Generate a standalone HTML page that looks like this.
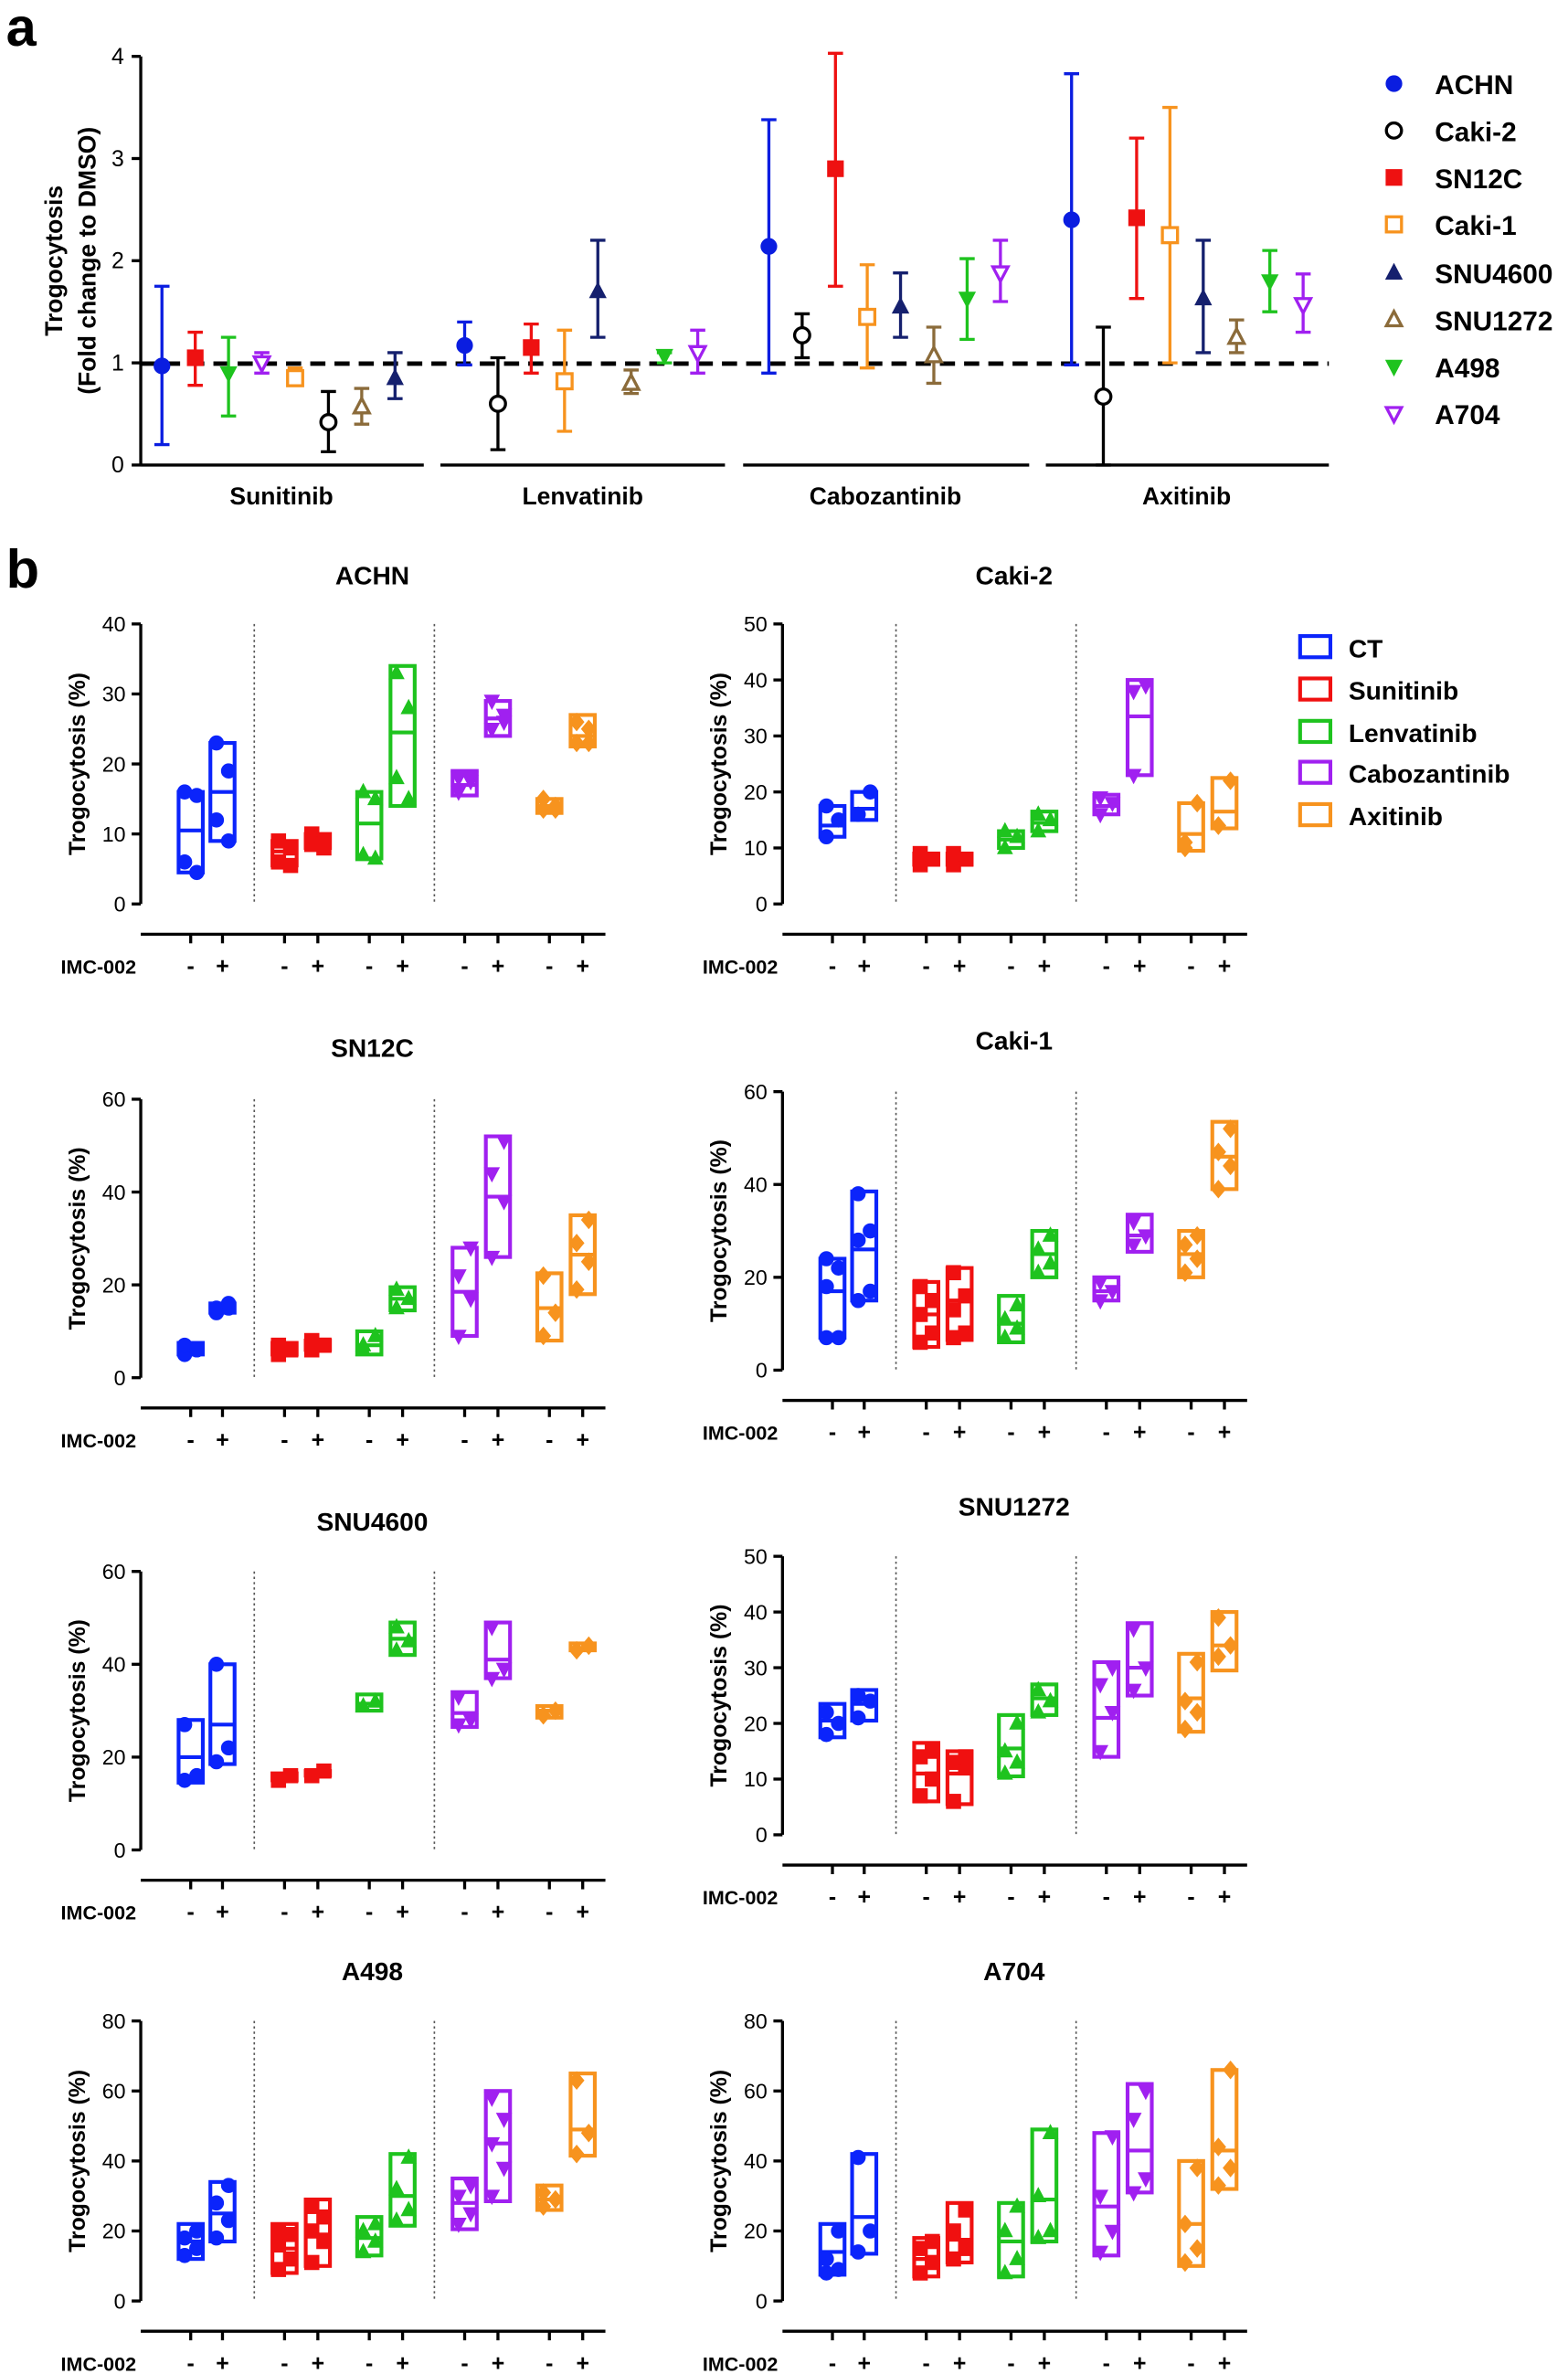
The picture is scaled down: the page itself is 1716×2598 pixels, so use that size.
<!DOCTYPE html>
<html><head><meta charset="utf-8"><style>
html,body{margin:0;padding:0;background:#fff}
svg{display:block;font-family:"Liberation Sans",Arial,sans-serif}
</style></head><body>
<svg id="s" xmlns="http://www.w3.org/2000/svg" width="1716" height="2598" viewBox="0 0 1036 1568">
<rect width="1036" height="1568" fill="#fff"/>
<text x="4" y="30" font-size="36" font-weight="bold">a</text>
<text x="4" y="388" font-size="36" font-weight="bold">b</text>
<text transform="translate(41,172) rotate(-90)" text-anchor="middle" font-size="16" font-weight="bold">Trogocytosis</text>
<text transform="translate(63,172) rotate(-90)" text-anchor="middle" font-size="16" font-weight="bold">(Fold change to DMSO)</text>
<text x="186" y="333" text-anchor="middle" font-size="16" font-weight="bold">Sunitinib</text>
<text x="385" y="333" text-anchor="middle" font-size="16" font-weight="bold">Lenvatinib</text>
<text x="585" y="333" text-anchor="middle" font-size="16" font-weight="bold">Cabozantinib</text>
<text x="784" y="333" text-anchor="middle" font-size="16" font-weight="bold">Axitinib</text>
<g font-size="18" font-weight="bold">
<text x="948" y="62">ACHN</text><text x="948" y="93">Caki-2</text><text x="948" y="124">SN12C</text><text x="948" y="155">Caki-1</text>
<text x="948" y="187">SNU4600</text><text x="948" y="218">SNU1272</text><text x="948" y="249">A498</text><text x="948" y="280">A704</text>
</g>
<g font-size="17" font-weight="bold">
<text x="891" y="434">CT</text><text x="891" y="462">Sunitinib</text><text x="891" y="490">Lenvatinib</text><text x="891" y="517">Cabozantinib</text><text x="891" y="545">Axitinib</text>
</g>
<g font-size="17" font-weight="bold" text-anchor="middle">
<text x="246" y="386">ACHN</text><text x="670" y="386">Caki-2</text>
<text x="246" y="698">SN12C</text><text x="670" y="693">Caki-1</text>
<text x="246" y="1011">SNU4600</text><text x="670" y="1001">SNU1272</text>
<text x="246" y="1308">A498</text><text x="670" y="1308">A704</text>
</g>
<g id="g"></g>
</svg>
<script>
const NS="http://www.w3.org/2000/svg",G=document.getElementById('g');
function el(t,a,txt){const e=document.createElementNS(NS,t);for(const k in a)e.setAttribute(k,a[k]);if(txt!==undefined)e.textContent=txt;G.appendChild(e);return e;}
function line(x1,y1,x2,y2,c,w,extra){return el('line',Object.assign({x1,y1,x2,y2,stroke:c||'#000','stroke-width':w||2},extra||{}));}
function marker(type,x,y,c,s,open){
 const f=open?'#fff':c, sw=open?2:1;
 if(type=='circle')el('circle',{cx:x,cy:y,r:s,fill:f,stroke:c,'stroke-width':sw});
 else if(type=='square')el('rect',{x:x-s,y:y-s,width:2*s,height:2*s,fill:f,stroke:c,'stroke-width':sw});
 else if(type=='up')el('polygon',{points:`${x},${y-s*1.1} ${x-s},${y+s*0.8} ${x+s},${y+s*0.8}`,fill:f,stroke:c,'stroke-width':sw});
 else if(type=='down')el('polygon',{points:`${x},${y+s*1.1} ${x-s},${y-s*0.8} ${x+s},${y-s*0.8}`,fill:f,stroke:c,'stroke-width':sw});
 else if(type=='diamond')el('polygon',{points:`${x},${y-s*1.2} ${x+s},${y} ${x},${y+s*1.2} ${x-s},${y}`,fill:f,stroke:c,'stroke-width':sw});
}
// Panel a
const ay=v=>307-v*67.5;
line(93,37,93,307);
['0','1','2','3','4'].forEach((t,i)=>{line(87,ay(i),93,ay(i));el('text',{x:82,y:ay(i)+5,'text-anchor':'end','font-size':15},t);});
[[93,280],[291,479],[491,680],[691,878]].forEach(s=>line(s[0],307,s[1],307));
line(93,240,878,240,'#000',3,{'stroke-dasharray':'10,6'});
const S={ACHN:['circle','#0a1de0',0],C2:['circle','#000',1],SN:['square','#ee1111',0],C1:['square','#f7931e',1],S46:['up','#15206e',0],S12:['up','#8b6b3a',1],A498:['down','#1ec31e',0],A704:['down','#a020f0',1]};
const A=[
['ACHN',107,0.97,0.2,1.75],['SN',129,1.05,0.78,1.3],['A498',151,0.9,0.48,1.25],['A704',173,1.0,0.9,1.1],['C1',195,0.85,0.78,0.95],['C2',217,0.42,0.13,0.72],['S12',239,0.57,0.4,0.75],['S46',261,0.85,0.65,1.1],
['ACHN',307,1.17,0.98,1.4],['C2',329,0.6,0.15,1.05],['SN',351,1.15,0.9,1.38],['C1',373,0.82,0.33,1.32],['S46',395,1.7,1.25,2.2],['S12',417,0.8,0.7,0.93],['A498',439,1.07,1.0,1.1],['A704',461,1.1,0.9,1.32],
['ACHN',508,2.14,0.9,3.38],['C2',530,1.27,1.05,1.48],['SN',552,2.9,1.75,4.03],['C1',573,1.45,0.95,1.96],['S46',595,1.55,1.25,1.88],['S12',617,1.07,0.8,1.35],['A498',639,1.63,1.23,2.02],['A704',661,1.88,1.6,2.2],
['ACHN',708,2.4,0.98,3.83],['C2',729,0.67,0,1.35],['SN',751,2.42,1.63,3.2],['C1',773,2.25,1.0,3.5],['S46',795,1.63,1.1,2.2],['S12',817,1.25,1.1,1.42],['A498',839,1.8,1.5,2.1],['A704',861,1.57,1.3,1.87]];
A.forEach(d=>{const s=S[d[0]],x=d[1];line(x,ay(d[3]),x,ay(d[4]),s[1],2);line(x-5,ay(d[3]),x+5,ay(d[3]),s[1],2);line(x-5,ay(d[4]),x+5,ay(d[4]),s[1],2);marker(s[0],x,ay(d[2]),s[1],5,s[2]);});
['ACHN','C2','SN','C1','S46','S12','A498','A704'].forEach((k,i)=>{const s=S[k];marker(s[0],921,[55,86,117,148,180,211,242,273][i],s[1],5,s[2]);});
// legend b
const C=['#0b24fb','#f01010','#1ec31e','#a020f0','#f7931e'],M=['circle','square','up','down','diamond'];
[427,455,483,510,538].forEach((y,i)=>el('rect',{x:859,y:y-7,width:20,height:14,fill:'none',stroke:C[i],'stroke-width':2.5}));
// Panel b
const off=[126,147,188,210,244,266,307,329,363,385].map(v=>v-93);
function panel(ax,top,bot,max,step,data){
 const sc=v=>bot-(v/max)*(bot-top);
 line(ax,top,ax,bot);
 for(let v=0;v<=max;v+=step){line(ax-6,sc(v),ax,sc(v));el('text',{x:ax-10,y:sc(v)+5,'text-anchor':'end','font-size':14},String(v));}
 el('text',{transform:`translate(${ax-37},${(top+bot)/2}) rotate(-90)`,'text-anchor':'middle','font-size':15,'font-weight':'bold'},'Trogocytosis (%)');
 const xb=bot+20;line(ax,xb,ax+307,xb);
 [75,194].forEach(o=>line(ax+o,top,ax+o,bot,'#555',1,{'stroke-dasharray':'1.5,2'}));
 el('text',{x:ax-3,y:xb+26,'text-anchor':'end','font-size':13,'font-weight':'bold'},'IMC-002');
 off.forEach((o,i)=>{const x=ax+o;line(x,xb,x,xb+6);el('text',{x:x,y:xb+26,'text-anchor':'middle','font-size':15,'font-weight':'bold'},i%2?'+':'-');
  const d=data[i],c=C[i>>1],pts=d[3];
  el('rect',{x:x-8,y:sc(d[1]),width:16,height:Math.max(sc(d[0])-sc(d[1]),1),fill:'none',stroke:c,'stroke-width':2.5});
  line(x-8,sc(d[2]),x+8,sc(d[2]),c,2.5);
  pts.forEach((p,j)=>marker(M[i>>1],x+(j%2?4:-4),sc(p),c,4.5,0));
 });
}
panel(93,412,597,40,10,[[4.5,16,10.5,[16,15.5,6,4.5]],[9,23,16,[23,19,12,9]],[5.5,9,7.5,[9,8,6,5.5]],[8,10,9,[10,9,8.5,8]],[6.5,16,11.5,[16,15,7,6.5]],[14,34,24.5,[33,28,18,15]],[15.5,19,17,[18,17.5,16,18]],[24,29,26.5,[29,27,25,26]],[13,15,14,[15,14,13.5,13.5]],[22.5,27,24,[26,25,23,23]]]);
panel(517,412,597,50,10,[[12,17.5,14,[12,15,17.5]],[15,20,17,[16,20,16]],[7,9,8,[7,8,9]],[7,9,8,[7,8,9]],[10,13,11.5,[10,12,13]],[13,16.5,14.5,[13,15,16]],[16,19.5,17.5,[16,18,19]],[23,40,33.5,[23,39,38]],[9.5,18,12.5,[10,18,11]],[13.5,22.5,16.5,[14,22,14]]]);
panel(93,726,910,60,20,[[5,7.5,6,[5,6,7,6]],[14,16,15,[14,16,15,15]],[5,7.5,6,[5,6,7,6]],[6,8,7,[6,7,8,7]],[5,10,7,[6,9,7]],[14.5,19.5,17,[15,17,19]],[9,28,18.5,[9,17,22,28]],[26,52,39,[26,38,44,51]],[8,22.5,15,[9,14,22]],[18,35,26.5,[19,25,29,34]]]);
panel(517,721,905,60,20,[[7,24,17,[7,7,18,22,24]],[15,38.5,26,[15,17,28,30,38]],[5,19,12,[6,8,12,15,18]],[6.5,22,15,[7,8,13,16,21]],[6,16,10,[7,9,11,14]],[20,30,25,[21,23,26,29]],[15,20,17,[15,17,19]],[25.5,33.5,29,[27,29,32]],[20,30,25,[21,24,27,29]],[39,53.5,46,[39,44,47,52]]]);
panel(93,1038,1222,60,20,[[14.5,28,20,[15,16,27]],[18.5,40,27,[19,22,40]],[15,16.5,15.5,[15,16]],[16,17,16.5,[16,17]],[30,33.5,31.5,[31,32]],[42,49,45.5,[43,45,48]],[26.5,34,29.5,[27,28,33]],[37,49,41,[37,39,48]],[28.5,31,30,[29,30]],[43,44.5,43.5,[43,44]]]);
panel(517,1028,1212,50,10,[[17.5,23.5,20.5,[18,20,22]],[20.5,26,23.5,[21,24,25]],[6,16.5,11,[7,10,14,15]],[5.5,15,11,[6,12,13,14]],[10.5,21.5,15.5,[11,13,15,20]],[21.5,27,24.5,[22,24,26]],[14,31,21,[15,22,27,30]],[25,38,30,[26,30,37]],[18.5,32.5,24.5,[19,22,24,31]],[29.5,40,34,[32,34,39]]]);
panel(93,1335,1520,80,20,[[12,22,17,[13,15,18,20]],[17,34,25,[18,23,28,33]],[8,22,15,[9,12,16,19,20]],[10,29,19,[11,17,20,24,27]],[13,24,18,[14,17,20,22]],[21.5,42,30,[23,26,32,41]],[20.5,35,28,[22,25,30,33]],[28.5,60,45,[30,38,45,52,58]],[26,33,29,[27,29,31]],[41.5,65,49,[42,48,63]]]);
panel(517,1335,1520,80,20,[[7.5,22,14,[8,9,12,20]],[13.5,42,24,[14,20,41]],[7,18,12,[8,11,15,17]],[11,28,17.5,[12,15,20,26]],[7,28,17,[8,12,20,27]],[17,49,29,[18,20,30,48]],[13,48,27,[14,20,30,47]],[31,62,43,[31,35,52,60]],[10,40,22,[11,15,22,38]],[32,66,43,[33,38,44,66]]]);
</script>
</body></html>
